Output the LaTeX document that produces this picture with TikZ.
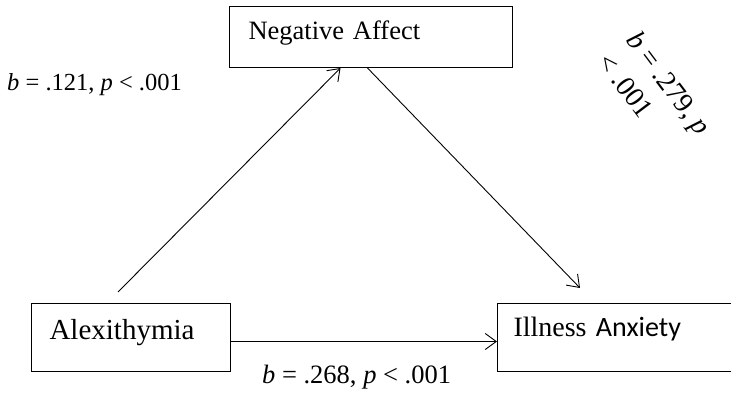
\documentclass[tikz,border=0pt]{standalone}
\usepackage{fontspec}
\setmainfont{Liberation Serif}
\newfontfamily\calibri{Carlito}
\usetikzlibrary{arrows.meta}

\begin{document}
\begin{tikzpicture}[x=1pt,y=-1pt,>={Straight Barb[length=11pt,width=16pt]},
    box/.style={draw,line width=1pt,anchor=north west,inner ysep=0pt,align=left},
    coef/.style={inner sep=0pt,font=\fontsize{24.5}{30}\selectfont},
    path/.style={->,line width=0.9pt}]
    \path[use as bounding box,fill=white] (0,0) rectangle (731,395);
    % boxes
    \node[box,inner xsep=19pt,text width=245pt,text height=33pt,text depth=28pt,
          font=\fontsize{26.5}{30}\selectfont] (NA) at (229,6) {Negative Affect};
    \node[box,inner xsep=18pt,text width=163pt,text height=36pt,text depth=32pt,
          font=\fontsize{29}{33}\selectfont] (A) at (31,303) {Alexithymia};
    \node[box,inner xsep=16pt,text width=230pt,text height=33pt,text depth=35pt,
          font=\fontsize{28}{32}\selectfont] (IA) at (497,303) {Illness {\calibri Anxiety}};
    \coordinate (A1) at (118,292);
    \coordinate (I1) at (580,288);
    % paths
    \draw[path] (A1) -- ([xshift=-30.5pt]NA.south);
    \draw[path] ([xshift=-3.5pt]NA.south) -- (I1);
    \draw[path] ([yshift=-4pt]A.east) -- ([yshift=-4pt]IA.west);
    % coefficients
    \node[coef,anchor=base west] (L1) at (7,91) {\textit{b} = .121, \textit{p} < .001};
    \node[coef,rotate=-53,align=left,font=\fontsize{28}{36}\selectfont] (L2) at (655,94)
        {\textit{b} = .279, \textit{p}\\< .001};
    \node[coef,anchor=base west,font=\fontsize{26.5}{30}\selectfont] (L3) at (262,383)
        {\textit{b} = .268, \textit{p} < .001};
\end{tikzpicture}
\end{document}
